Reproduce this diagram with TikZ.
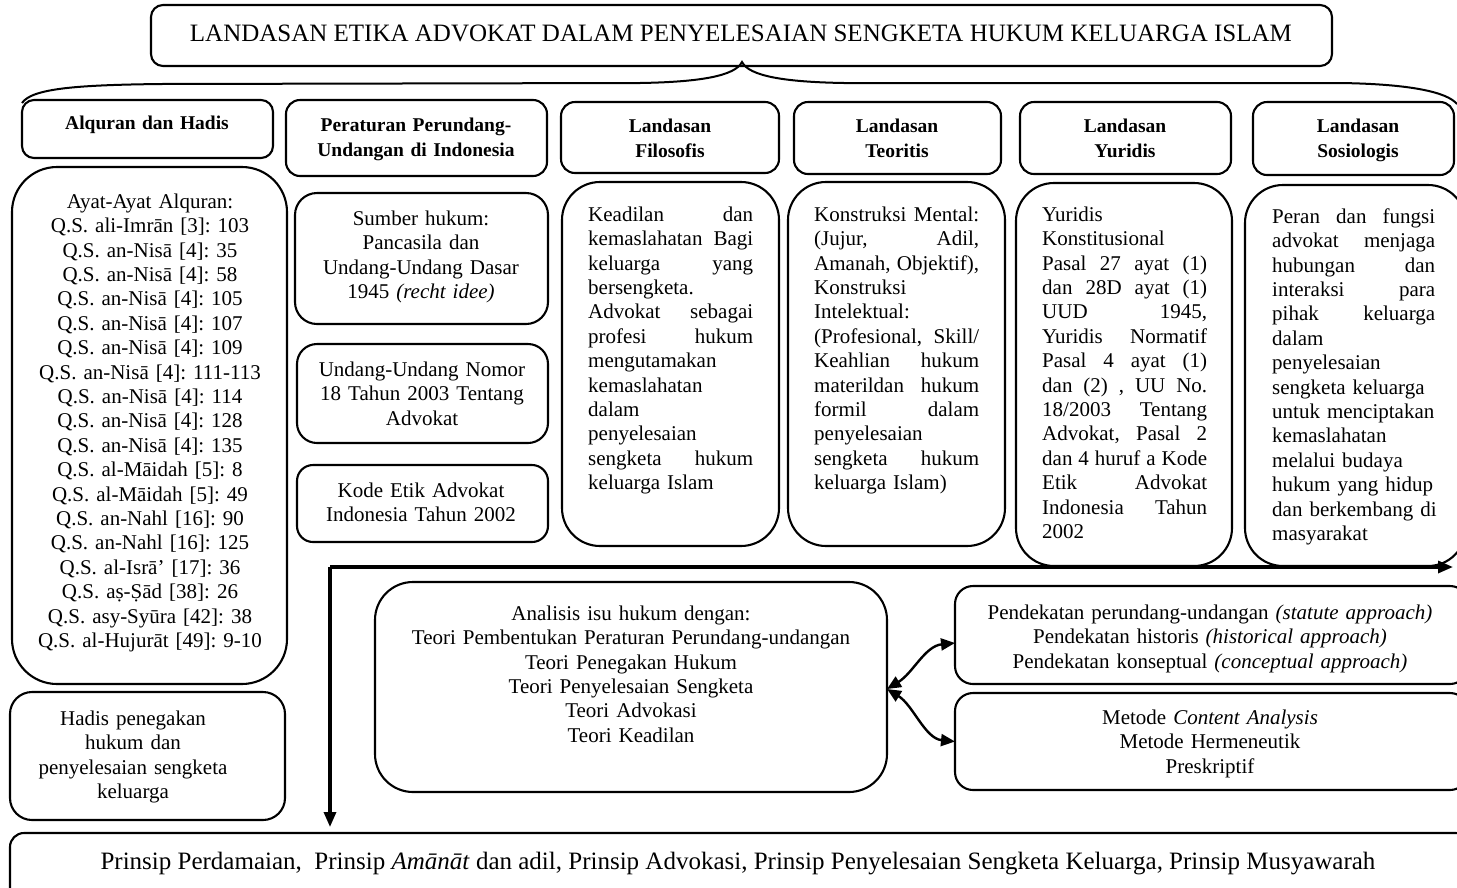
\documentclass[tikz,border=0pt]{standalone}
\usepackage{fontspec}
\setmainfont{Liberation Serif}
\usetikzlibrary{arrows.meta}
\def\jw{165pt}
\newcommand\J[1]{\makebox[\jw][s]{\spaceskip=0.25em plus 1fil\relax #1}}
\newcommand\Lft[1]{\mbox{#1}}
\newcommand\fsN{\fontsize{21}{24.4}\selectfont}
\newcommand\fsH{\fontsize{19.5}{25}\selectfont\bfseries}
\newcommand\fsT{\fontsize{25}{30}\selectfont}
\tikzset{
  bx/.style={draw, line width=2.1pt, rounded corners=#1, inner sep=0pt, outer sep=0pt},
  bx/.default=12pt,
  tx/.style={inner sep=0pt, anchor=north, align=center, text width=#1, font=\fsN},
  tx/.default=260pt,
  jx/.style={inner sep=0pt, anchor=north west, align=left, text width=#1, font=\fsN},
  hd/.style={inner sep=0pt, anchor=north, align=center, text width=240pt, font=\fsH},
  flow/.style={line width=3.2pt, -{Triangle[length=15pt,width=12pt]}},
  dbl/.style={line width=2.4pt, {Triangle[length=14pt,width=12pt]}-{Triangle[length=14pt,width=12pt]}},
  brace/.style={line width=2pt},
}
\newcommand\Bx[6]{\node[bx=#6, minimum width={(#4-#2)*1pt}, minimum height={(#5-#3)*1pt}] (#1) at ({(#2+#4)/2},{(#3+#5)/2}) {};}
\begin{document}
\frenchspacing
\begin{tikzpicture}[x=1pt,y=-1pt]
\useasboundingbox (0,0) rectangle (1457,887);
\fill[white] (0,0) rectangle (1457,887);
\clip (0,0) rectangle (1457,887);

% title
\Bx{title}{151}{5}{1332}{66}{12pt}
\node[inner sep=0pt, anchor=base, font=\fsT] (titleT) at (741,41) {LANDASAN ETIKA ADVOKAT DALAM PENYELESAIAN SENGKETA HUKUM KELUARGA ISLAM};

% brace
\coordinate (braceTip) at (742,62);
\draw[brace] (22,103) .. controls (32,88) and (80,85) .. (160,84) -- (640,83) .. controls (700,82) and (735,76) .. (braceTip) .. controls (749,76) and (784,82) .. (844,83) -- (1340,83) .. controls (1410,84) and (1447,92) .. (1457,104);

% header row
\Bx{h1}{22}{100}{273}{158}{12pt}
\Bx{h2}{286}{100}{547}{176}{14pt}
\Bx{h3}{561}{102}{779}{173}{14pt}
\Bx{h4}{794}{102}{1001}{174}{14pt}
\Bx{h5}{1020}{102}{1231}{174}{14pt}
\Bx{h6}{1253}{102}{1454}{175}{14pt}
\node[hd] (h1T) at (147,112) {\strut Alquran dan Hadis};
\node[hd] (h2T) at (416,114) {\strut Peraturan Perundang-\\Undangan di Indonesia};
\node[hd] (h3T) at (670,115) {\strut Landasan\\Filosofis};
\node[hd] (h4T) at (897,115) {\strut Landasan\\Teoritis};
\node[hd] (h5T) at (1125,115) {\strut Landasan\\Yuridis};
\node[hd] (h6T) at (1358,115) {\strut Landasan\\Sosiologis};

% left column
\Bx{ayat}{12}{167}{287}{684}{45pt}
\node[tx=270pt] (ayatT) at (150,191) {\strut Ayat-Ayat Alquran:\\
Q.S. ali-Imrān [3]: 103\\
Q.S. an-Nisā [4]: 35\\
Q.S. an-Nisā [4]: 58\\
Q.S. an-Nisā [4]: 105\\
Q.S. an-Nisā [4]: 107\\
Q.S. an-Nisā [4]: 109\\
Q.S. an-Nisā [4]: 111-113\\
Q.S. an-Nisā [4]: 114\\
Q.S. an-Nisā [4]: 128\\
Q.S. an-Nisā [4]: 135\\
Q.S. al-Māidah [5]: 8\\
Q.S. al-Māidah [5]: 49\\
Q.S. an-Nahl [16]: 90\\
Q.S. an-Nahl [16]: 125\\
Q.S. al-Isrā’ [17]: 36\\
Q.S. aṣ-Ṣād [38]: 26\\
Q.S. asy-Syūra [42]: 38\\
Q.S. al-Hujurāt [49]: 9-10};
\Bx{hadis}{10}{692}{285}{820}{22pt}
\node[tx=270pt] (hadisT) at (133,708) {\strut Hadis penegakan\\hukum dan\\penyelesaian sengketa\\keluarga};

% peraturan column
\Bx{p1}{295}{193}{548}{324}{22pt}
\node[tx=250pt] (p1T) at (421,208) {\strut Sumber hukum:\\Pancasila dan\\Undang-Undang Dasar\\1945 \textit{(recht idee)}};
\Bx{p2}{297}{344}{548}{443}{20pt}
\node[tx=250pt] (p2T) at (422,359) {\strut Undang-Undang Nomor\\18 Tahun 2003 Tentang\\Advokat};
\Bx{p3}{297}{465}{548}{542}{16pt}
\node[tx=250pt] (p3T) at (421,480) {\strut Kode Etik Advokat\\Indonesia Tahun 2002};

% filosofis
\Bx{fil}{562}{182}{779}{546}{38pt}
\node[jx=170pt] (filT) at (588,204) {\strut\J{Keadilan dan}\\
\J{kemaslahatan Bagi}\\
\J{keluarga yang}\\
\Lft{bersengketa.}\\
\J{Advokat sebagai}\\
\J{profesi hukum}\\
\Lft{mengutamakan}\\
\Lft{kemaslahatan}\\
\Lft{dalam}\\
\Lft{penyelesaian}\\
\J{sengketa hukum}\\
\Lft{keluarga Islam}};

% teoritis
\Bx{teo}{788}{182}{1005}{546}{38pt}
\node[jx=170pt] (teoT) at (814,204) {\strut\J{Konstruksi Mental:}\\
\J{(Jujur, Adil,}\\
\J{Amanah, Objektif),}\\
\Lft{Konstruksi}\\
\Lft{Intelektual:}\\
\J{(Profesional, Skill/}\\
\J{Keahlian hukum}\\
\J{materildan hukum}\\
\J{formil dalam}\\
\Lft{penyelesaian}\\
\J{sengketa hukum}\\
\Lft{keluarga Islam)}};

% yuridis
\Bx{yur}{1016}{183}{1232}{566}{38pt}
\node[jx=170pt] (yurT) at (1042,204) {\strut\Lft{Yuridis}\\
\Lft{Konstitusional}\\
\J{Pasal 27 ayat (1)}\\
\J{dan 28D ayat (1)}\\
\J{UUD 1945,}\\
\J{Yuridis Normatif}\\
\J{Pasal 4 ayat (1)}\\
\J{dan (2) , UU No.}\\
\J{18/2003 Tentang}\\
\J{Advokat, Pasal 2}\\
\J{dan 4 huruf a Kode}\\
\J{Etik Advokat}\\
\J{Indonesia Tahun}\\
\Lft{2002}};

% sosiologis
\def\jw{163pt}
\Bx{sos}{1245}{185}{1466}{566}{38pt}
\node[jx=170pt] (sosT) at (1272,206) {\strut\J{Peran dan fungsi}\\
\J{advokat menjaga}\\
\J{hubungan dan}\\
\J{interaksi para}\\
\J{pihak keluarga}\\
\Lft{dalam}\\
\Lft{penyelesaian}\\
\Lft{sengketa keluarga}\\
\Lft{untuk menciptakan}\\
\Lft{kemaslahatan}\\
\Lft{melalui budaya}\\
\Lft{hukum yang hidup}\\
\Lft{dan berkembang di}\\
\Lft{masyarakat}};

% flow lines
\coordinate (lineStart) at (330,567);
\coordinate (lineEnd) at (1453,567);
\coordinate (downEnd) at (330,827);
\draw[flow] (lineStart) -- (lineEnd);
\draw[flow] (lineStart) -- (downEnd);

% analysis
\Bx{an}{375}{582}{887}{792}{38pt}
\node[tx=500pt] (anT) at (631,603) {\strut Analisis isu hukum dengan:\\Teori Pembentukan Peraturan Perundang-undangan\\Teori Penegakan Hukum\\Teori Penyelesaian Sengketa\\Teori Advokasi\\Teori Keadilan};

\Bx{ap}{955}{586}{1468}{684}{18pt}
\node[tx=500pt] (apT) at (1210,602) {\strut Pendekatan perundang-undangan \textit{(statute approach)}\\Pendekatan historis \textit{(historical approach)}\\Pendekatan konseptual \textit{(conceptual approach)}};
\Bx{me}{955}{693}{1468}{790}{18pt}
\node[tx=500pt] (meT) at (1210,707) {\strut Metode \textit{Content Analysis}\\Metode Hermeneutik\\Preskriptif};

\draw[dbl] ([yshift=-2pt]an.east) .. controls +(26,-16) and +(-30,3) .. ([yshift=-8pt]ap.west);
\draw[dbl] ([yshift=-2pt]an.east) .. controls +(26,16) and +(-30,-3) .. (me.west);

% bottom
\Bx{prin}{10}{833}{1470}{905}{14pt}
\node[inner sep=0pt, anchor=base, font=\fsT] (prinT) at (738,869) {Prinsip Perdamaian,\ \ Prinsip \textit{Amānāt} dan adil, Prinsip Advokasi, Prinsip Penyelesaian Sengketa Keluarga, Prinsip Musyawarah};
\end{tikzpicture}
\end{document}
